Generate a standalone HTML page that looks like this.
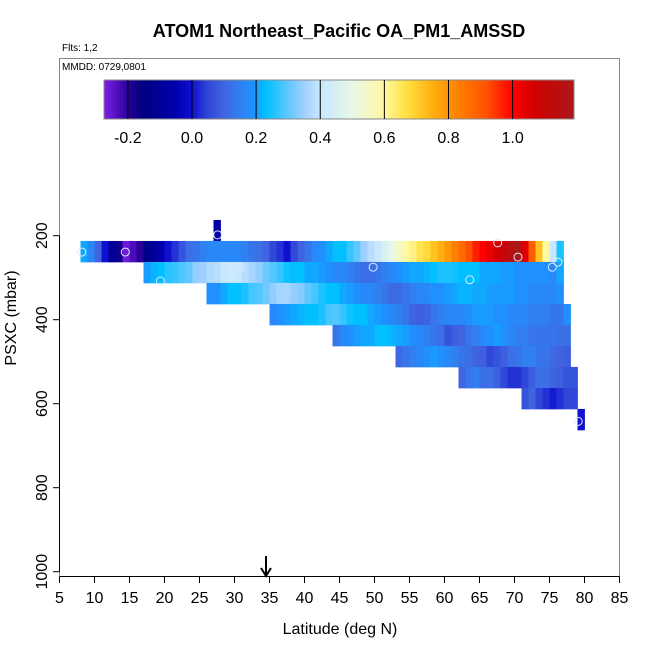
<!DOCTYPE html>
<html><head><meta charset="utf-8"><style>
html,body{margin:0;padding:0;background:#fff;}
svg{display:block;font-family:"Liberation Sans",sans-serif;}
</style></head><body>
<svg id="chart" width="650" height="650" viewBox="0 0 650 650" xmlns="http://www.w3.org/2000/svg">
<text x="339" y="37" text-anchor="middle" font-size="18" font-weight="bold">ATOM1 Northeast_Pacific OA_PM1_AMSSD</text>
<text x="62" y="51" font-size="10">Flts: 1,2</text>
<rect x="59.5" y="58.5" width="560" height="518" fill="none" stroke="#888"/>
<text x="62" y="70" font-size="10">MMDD: 0729,0801</text>
<g id="cells"></g>
<g id="circles"></g>
<g id="cbar"></g>
<g id="axes"></g>
<line x1="266" y1="556" x2="266" y2="575" stroke="#000" stroke-width="2"/>
<path d="M261,568 L266,576 L271,568" fill="none" stroke="#000" stroke-width="2"/>
<text x="340" y="634" text-anchor="middle" font-size="16">Latitude (deg N)</text>
<text transform="translate(16,318) rotate(-90)" text-anchor="middle" font-size="16">PSXC (mbar)</text>
</svg>
<script>
// ---- data ----
const rowPressure = [187.5,237.5,287.5,337.5,387.5,437.5,487.5,537.5,587.5,637.5];
const rowStartLat = [27,8,17,26,35,44,53,62,71,79];
const row0 = [-0.07];
const row1 = [.21,.17,.1,0,-.1,-.17,-.26,-.23,-.2,-.13,-.1,-.05,0,.03,.07,.12,.13,.15,.17,.17,.17,.17,.17,.15,.13,.12,.1,.05,.03,0,.05,.1,.13,.17,.19,.21,.23,
 .23,.27,.3,.35,.38,.4,.45,.5,.55,.6,.62,.66,.68,.72,.75,.79,.83,.87,.92,.97,1.0,1.03,1.07,1.1,1.15,1.19,1.05,.9,.72,.6,.4,.25];
const row2 = [.2,.22,.23,.26,.27,.29,.3,.34,.35,.37,.38,.4,.41,.4,.38,.36,.34,.31,.29,.27,.24,.23,.23,.21,.21,.2,.19,.17,
 .17,.15,.13,.12,.12,.13,.15,.17,.19,.2,.21,.21,.22,.23,.25,.25,.24,.23,.23,.23,.21,.21,.21,.2,.2,.19,.19,.19,.19,.19,.17,.21];
const row3 = [.19,.19,.21,.23,.23,.25,.28,.29,.31,.34,.36,.36,.34,.33,.3,.28,.25,.23,.23,
 .21,.2,.19,.17,.17,.15,.13,.11,.11,.13,.15,.17,.17,.19,.19,.2,.21,.22,.22,.21,.21,.2,.2,.2,.2,.19,.19,.17,.17,.17,.17,.19];
const row4 = [.17,.19,.2,.21,.22,.23,.23,.25,.28,.29,
 .27,.24,.23,.23,.21,.2,.19,.17,.15,.13,.1,.09,.1,.13,.15,.17,.17,.17,.19,.2,.2,.2,.19,.19,.17,.17,.17,.15,.15,.15,.13,.13,.19];
const row5 = [.13,
 .17,.19,.2,.21,.21,.23,.23,.22,.21,.2,.19,.17,.15,.13,.12,.07,.09,.1,.13,.15,.17,.19,.2,.19,.17,.15,.15,.13,.13,.13,.13,.12,.12];
const row6 = [.11,.13,.15,.17,.19,.2,.19,.17,.15,.13,.12,.1,.09,.05,.07,.09,.12,.13,.15,.15,.13,.13,.11,.1,.09];
const row7 = [.1,.13,.15,.12,.12,.09,.05,.03,.03,.05,.09,.12,.12,.1,.09,.07,.07];
const row8 = [.07,.1,.05,.03,.01,.03,.05,.05];
const row9 = [0.0];
const rows = [row0,row1,row2,row3,row4,row5,row6,row7,row8,row9];
const markerLat = [8.2,14.4,27.6,19.4,30.8,49.8,63.6,67.6,70.5,75.4,76.2,79.1];
const markerP = [239,239,198,308,275,275,305,217,251,275,263,642];
const xTicks = [5,10,15,20,25,30,35,40,45,50,55,60,65,70,75,80,85];
const yTicks = [200,400,600,800,1000];
const cbarTicks = [-0.2,0.0,0.2,0.4,0.6,0.8,1.0];
const cbarTickLabels = ["-0.2","0.0","0.2","0.4","0.6","0.8","1.0"];
// ---- scales ----
const NS="http://www.w3.org/2000/svg";
const xS = lat => 59.5 + (lat-5)*7.0;
const yS = p => 235.7 + (p-200)*0.42;
const cS = v => 192 + v*320.6;
const stops=[[-0.275,[128,32,232]],[-0.2,[40,0,150]],[-0.15,[0,0,128]],[-0.05,[0,0,176]],[0,[16,16,208]],[0.05,[48,72,216]],[0.1,[64,100,224]],[0.15,[48,128,240]],[0.19,[32,144,255]],[0.23,[0,192,255]],[0.3,[96,200,255]],[0.35,[160,208,255]],[0.4,[200,232,255]],[0.5,[232,248,232]],[0.6,[255,248,160]],[0.67,[255,224,64]],[0.75,[255,176,16]],[0.83,[255,128,0]],[0.92,[255,80,0]],[1.0,[255,0,0]],[1.07,[208,0,0]],[1.15,[184,16,16]],[1.22,[160,32,32]]];
function cmap(v){
  if(v<=stops[0][0]) return 'rgb('+stops[0][1]+')';
  for(let i=1;i<stops.length;i++){
    if(v<=stops[i][0]){const a=stops[i-1],b=stops[i];const t=(v-a[0])/(b[0]-a[0]);
      return 'rgb('+a[1].map((c,k)=>Math.round(c+(b[1][k]-c)*t)).join(',')+')';}
  }
  return 'rgb('+stops[stops.length-1][1]+')';
}
function mk(tag,attrs,parent){const e=document.createElementNS(NS,tag);for(const k in attrs)e.setAttribute(k,attrs[k]);parent.appendChild(e);return e;}
// ---- heatmap ----
const gc=document.getElementById('cells');
rows.forEach((vals,r)=>{
  vals.forEach((v,i)=>{
    const lat=rowStartLat[r]+i;
    const x0=xS(lat), x1=xS(lat+1), y0=yS(rowPressure[r]-25), y1=yS(rowPressure[r]+25);
    const el=mk('rect',{x:x0,y:y0,width:x1-x0+0.4,height:y1-y0+0.4,fill:cmap(v)},gc);
    
    
  });
});
// ---- markers ----
const gm=document.getElementById('circles');
markerLat.forEach((lat,i)=>{
  const el=mk('circle',{cx:xS(lat),cy:yS(markerP[i]),r:4,fill:'none',stroke:'#dde8ff','stroke-width':1},gm);
  
  
});
// ---- colorbar ----
const gb=document.getElementById('cbar');
const cx0=104,cx1=574,N=235;
for(let i=0;i<N;i++){
  const v=-0.275+(i+0.5)/N*(1.19+0.275);
  const el=mk('rect',{x:cx0+i*(cx1-cx0)/N,y:80,width:(cx1-cx0)/N+0.3,height:39,fill:cmap(v)},gb);
  
  
}
const bf=mk('rect',{x:cx0,y:80,width:cx1-cx0,height:39,fill:'none',stroke:'#888'},gb);


cbarTicks.forEach((v,i)=>{
  const l=mk('line',{x1:cS(v),x2:cS(v),y1:80,y2:119,stroke:'#000','stroke-width':1},gb);
  
  
  const t=mk('text',{x:cS(v),y:143,'text-anchor':'middle','font-size':16},gb);
  t.textContent=cbarTickLabels[i];
  
  
});
// ---- axes ----
const ga=document.getElementById('axes');
const xl=mk('line',{x1:xS(5),x2:xS(85),y1:576.5,y2:576.5,stroke:'#000'},ga);


xTicks.forEach(v=>{
  const l=mk('line',{x1:xS(v),x2:xS(v),y1:576.5,y2:583,stroke:'#000'},ga);
  
  
  const t=mk('text',{x:xS(v),y:603,'text-anchor':'middle','font-size':16},ga);
  t.textContent=v;
  
  
});
const yl=mk('line',{x1:59.5,x2:59.5,y1:yS(200),y2:yS(1000),stroke:'#000'},ga);


yTicks.forEach(v=>{
  const l=mk('line',{x1:53,x2:59.5,y1:yS(v),y2:yS(v),stroke:'#000'},ga);
  
  
  const t=mk('text',{transform:'translate(47,'+yS(v)+') rotate(-90)','text-anchor':'middle','font-size':16},ga);
  t.textContent=v;
  
  
});
</script>
</body></html>
